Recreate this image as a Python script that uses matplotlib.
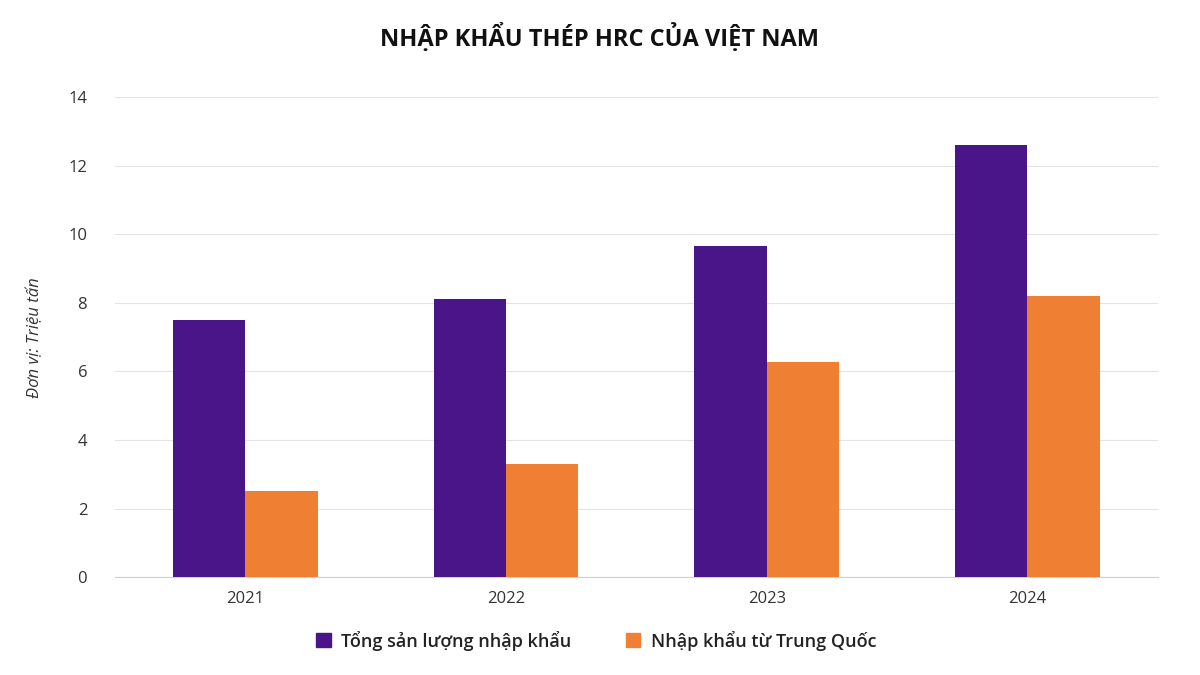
import numpy as np
import matplotlib.pyplot as plt
from matplotlib.patches import Patch

plt.rcParams['font.family'] = ['Open Sans', 'DejaVu Sans']

years = ['2021', '2022', '2023', '2024']
tong = [7.5, 8.1, 9.65, 12.6]
trung_quoc = [2.5, 3.3, 6.28, 8.2]

purple = '#4a1589'
orange = '#ee7f33'

fig = plt.figure(figsize=(12, 6.75), dpi=100)
ax = fig.add_axes([0.0958, 0.145, 0.869, 0.711])

x = np.arange(len(years))
w = 0.278
ax.bar(x - w / 2, tong, w, color=purple, zorder=3)
ax.bar(x + w / 2, trung_quoc, w, color=orange, zorder=3)

ax.set_xlim(-0.5, 3.5)
ax.set_ylim(0, 14)
ax.set_yticks(range(0, 15, 2))
ax.set_xticks(x)
ax.set_xticklabels(years)
ax.tick_params(axis='both', length=0, labelsize=12, colors='#333333')
ax.tick_params(axis='y', pad=20)
ax.tick_params(axis='x', pad=10)
ax.grid(axis='y', color='#e3e3e3', linewidth=0.8, zorder=0)
for s in ax.spines.values():
    s.set_visible(False)
ax.spines['bottom'].set_visible(True)
ax.spines['bottom'].set_color('#d0d0d0')

ax.set_ylabel('Đơn vị: Triệu tấn', fontsize=12, style='italic', color='#333333', labelpad=18)

fig.text(0.5, 0.944, 'NHẬP KHẨU THÉP HRC CỦA VIỆT NAM', ha='center', va='center',
         fontsize=17, fontweight='bold', color='#111111')

handles = [Patch(color=purple, label='Tổng sản lượng nhập khẩu'),
           Patch(color=orange, label='Nhập khẩu từ Trung Quốc')]
leg = fig.legend(handles=handles, loc='center', bbox_to_anchor=(0.497, 0.051), ncol=2,
                 frameon=False, fontsize=13, handlelength=0.8, handleheight=0.8,
                 columnspacing=3.0, handletextpad=0.6)
for t in leg.get_texts():
    t.set_fontweight('semibold')
    t.set_color('#222222')

fig.savefig('out.png', dpi=100)
